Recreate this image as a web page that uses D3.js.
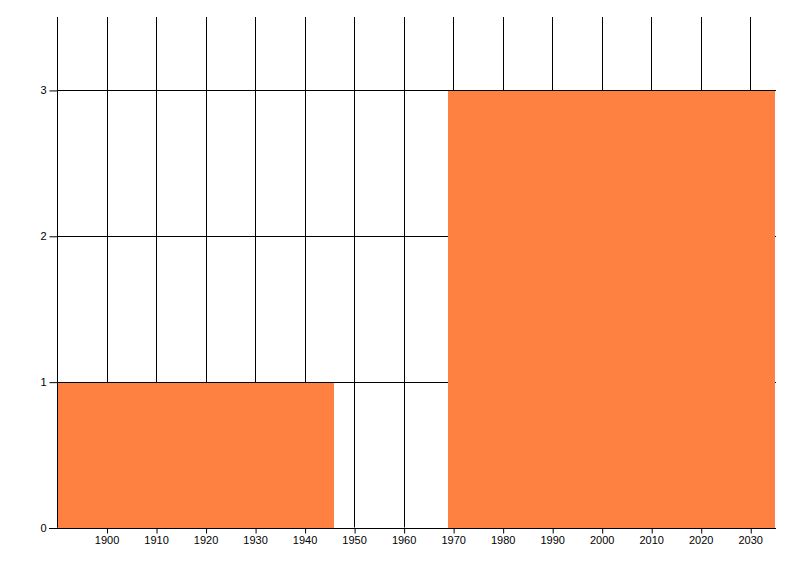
<!DOCTYPE html>
<html>
<head>
<meta charset="utf-8">
<script src="https://cdn.jsdelivr.net/npm/d3@7"></script>
<style>
  body { margin: 0; background: #fff; }
  svg text { font-family: "Liberation Sans", Arial, sans-serif; font-size: 11px; fill: #000; }
</style>
</head>
<body>
<div id="chart"></div>
<script>
// bar spans (years) and heights
var barStarts = [1890, 1969];
var barEnds = [1946, 2035];
var barValues = [1, 3];
var xTicks = [1900, 1910, 1920, 1930, 1940, 1950, 1960, 1970, 1980, 1990, 2000, 2010, 2020, 2030];
var yTicks = [0, 1, 2, 3];

var margin = {top: 17, right: 25, bottom: 48.5, left: 57},
    width = 800 - margin.left - margin.right,
    height = 576 - margin.top - margin.bottom;

var x = d3.scaleLinear().domain([1890, 2035]).range([0, width]);
var y = d3.scaleLinear().domain([0, 3.5]).range([height, 0]);

var svg = d3.select("#chart").append("svg")
    .attr("width", 800)
    .attr("height", 576)
    .append("g")
    .attr("transform", "translate(" + margin.left + "," + margin.top + ")");

// grid
svg.append("g").selectAll("line")
    .data(xTicks)
    .enter().append("line")
    .attr("x1", function(d) { return Math.round(x(d)) + 0.5; })
    .attr("x2", function(d) { return Math.round(x(d)) + 0.5; })
    .attr("y1", 0)
    .attr("y2", height)
    .attr("stroke", "#000")
    .attr("stroke-width", 1);

svg.append("g").selectAll("line")
    .data(yTicks.slice(1))
    .enter().append("line")
    .attr("x1", 0)
    .attr("x2", width + 1)
    .attr("y1", function(d) { return Math.round(y(d)) + 0.5; })
    .attr("y2", function(d) { return Math.round(y(d)) + 0.5; })
    .attr("stroke", "#000")
    .attr("stroke-width", 1);

// bars
var bars = barStarts.map(function(s, i) { return {start: s, end: barEnds[i], value: barValues[i]}; });
svg.selectAll(".bar")
    .data(bars)
    .enter().append("rect")
    .attr("class", "bar")
    .attr("x", function(d) { return Math.round(x(d.start)); })
    .attr("width", function(d) { return Math.round(x(d.end)) - Math.round(x(d.start)); })
    .attr("y", function(d) { return Math.round(y(d.value)) + 1; })
    .attr("height", function(d) { return Math.round(y(0)) - Math.round(y(d.value)); })
    .attr("fill", "#ff8142");

// x axis
var xAxis = d3.axisBottom(x)
    .tickValues(xTicks)
    .tickFormat(d3.format("d"))
    .tickSize(5)
    .tickSizeOuter(0)
    .tickPadding(3);
var gx = svg.append("g")
    .attr("transform", "translate(0," + (Math.round(height) + 0.5) + ")")
    .call(xAxis);
gx.select(".domain").remove();
gx.append("line")
    .attr("x1", -8).attr("x2", width + 1)
    .attr("y1", 0).attr("y2", 0)
    .attr("stroke", "#000");
gx.selectAll(".tick line").attr("transform", "translate(0.5,0)");

// y axis
var yAxis = d3.axisLeft(y)
    .tickValues(yTicks)
    .tickFormat(d3.format("d"))
    .tickSize(8)
    .tickSizeOuter(0)
    .tickPadding(3);
var gy = svg.append("g")
    .attr("transform", "translate(0.5,0)")
    .call(yAxis);
gy.select(".domain").attr("d", "M0,0V" + height);
gy.selectAll(".tick line").attr("transform", "translate(0,0.5)");
svg.selectAll(".tick text").attr("font-family", null).attr("font-size", null);
</script>
</body>
</html>
